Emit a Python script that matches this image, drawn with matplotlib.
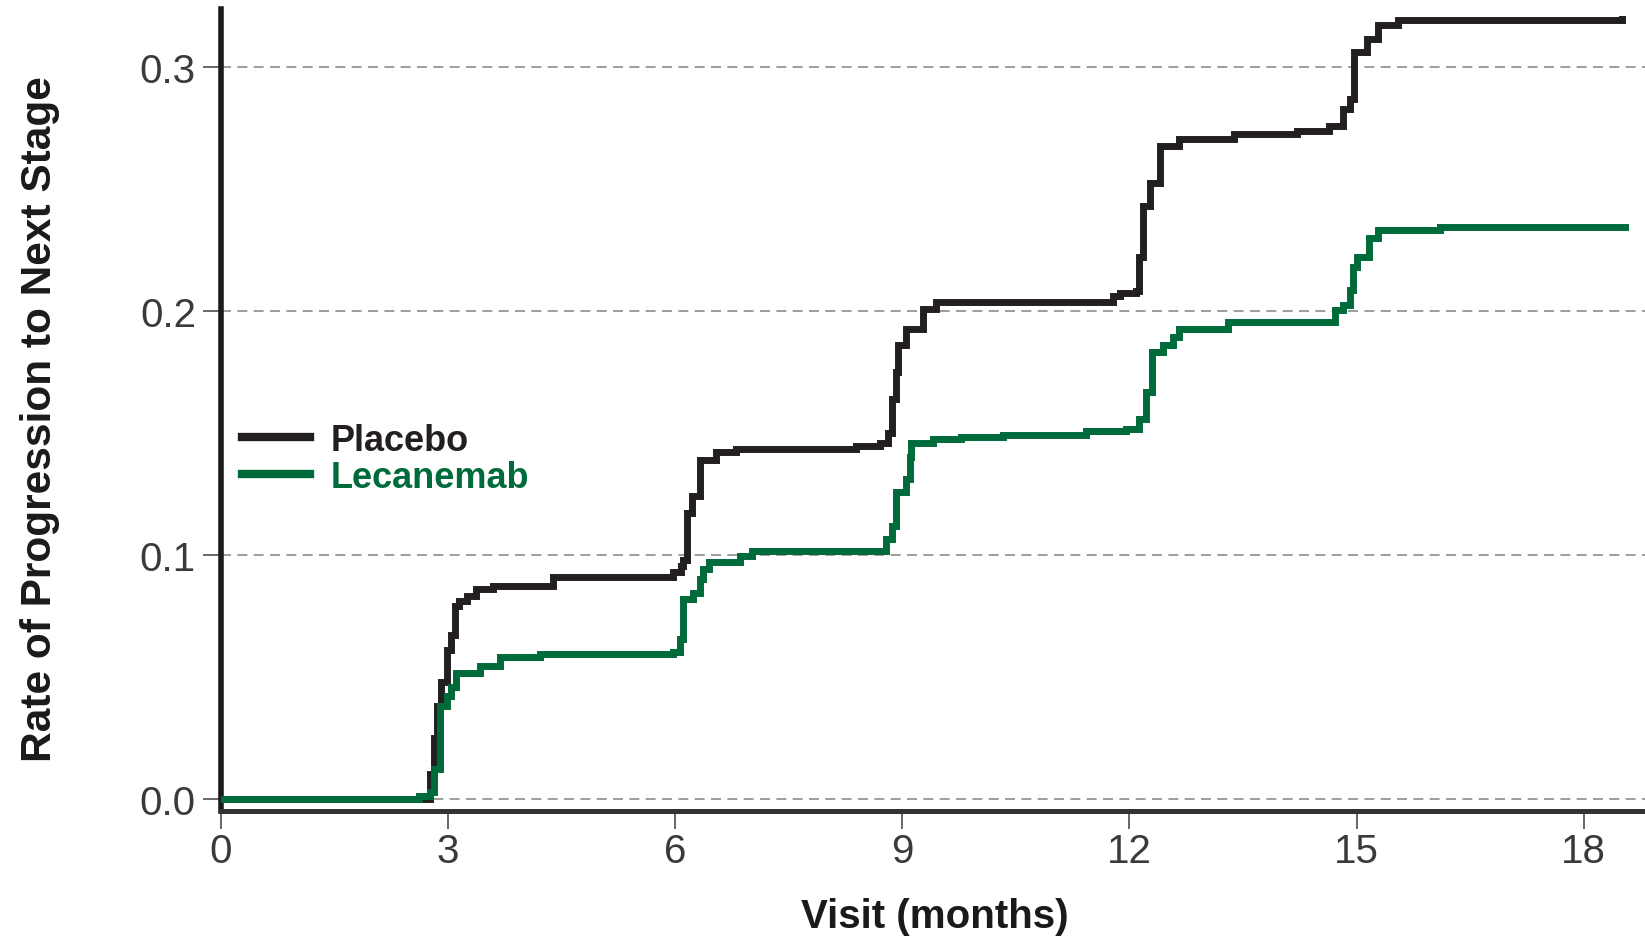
import numpy as np
import matplotlib
matplotlib.use("Agg")
import matplotlib.pyplot as plt

plt.rcParams['font.family'] = ['Liberation Sans', 'DejaVu Sans']

# === Data (months, cumulative rate) ===
pbo_t = [0, 2.76, 2.82, 2.86, 2.91, 2.98, 3.04, 3.09, 3.15, 3.25,
         3.37, 3.59, 4.3, 4.38, 5.88, 5.97, 6.08, 6.1, 6.15, 6.22,
         6.33, 6.54, 6.81, 8.39, 8.7, 8.81, 8.87, 8.92, 8.94, 9.05,
         9.27, 9.45, 11.69, 11.78, 11.88, 12.09, 12.13, 12.18, 12.27, 12.41,
         12.66, 13.38, 14.22, 14.63, 14.82, 14.92, 14.96, 15.14, 15.28, 15.55,
         18.51]
pbo_y = [0, 0.01, 0.025, 0.038, 0.048, 0.061, 0.067, 0.079, 0.081, 0.083,
         0.086, 0.0874, 0.0874, 0.091, 0.091, 0.093, 0.0955, 0.098, 0.117, 0.124,
         0.139, 0.142, 0.1434, 0.1447, 0.146, 0.150, 0.164, 0.175, 0.186, 0.1926,
         0.2008, 0.2036, 0.2036, 0.2063, 0.2075, 0.2083, 0.2223, 0.243, 0.2525, 0.2677,
         0.2704, 0.2725, 0.2739, 0.2759, 0.2828, 0.287, 0.3062, 0.3117, 0.3172, 0.3193,
         0.3197]

lec_t = [0, 2.62, 2.76, 2.82, 2.89, 2.98, 3.04, 3.11, 3.42, 3.68,
         4.21, 5.97, 6.06, 6.1, 6.23, 6.33, 6.37, 6.45, 6.85, 7.02,
         8.7, 8.79, 8.87, 8.92, 9.05, 9.1, 9.12, 9.4, 9.77, 10.33,
         11.43, 11.96, 12.13, 12.22, 12.3, 12.45, 12.57, 12.66, 13.3, 14.68,
         14.72, 14.82, 14.91, 14.95, 15.0, 15.17, 15.28, 16.1, 18.54]
lec_y = [0, 0.001, 0.0026, 0.012, 0.038, 0.042, 0.046, 0.0517, 0.0545, 0.058,
         0.0593, 0.06, 0.0654, 0.082, 0.0845, 0.09, 0.094, 0.097, 0.0996, 0.1016,
         0.1016, 0.1065, 0.112, 0.1256, 0.131, 0.14, 0.146, 0.1475, 0.1485, 0.149,
         0.1509, 0.1516, 0.1557, 0.1667, 0.183, 0.186, 0.1893, 0.1927, 0.1955, 0.1955,
         0.2003, 0.2023, 0.2085, 0.2182, 0.2223, 0.2298, 0.2333, 0.2344, 0.2344]

x_ticks = [0, 3, 6, 9, 12, 15, 18]
y_ticks = [0.0, 0.1, 0.2, 0.3]

black = "#231f20"
green = "#006b3a"

fig = plt.figure(figsize=(16.45, 9.37), dpi=100)
ax = fig.add_axes([0.1343, 0.1335, 0.8657, 0.8553])

for yv in y_ticks:
    ax.axhline(yv, color="#8c8c8c", lw=1.2, linestyle=(0, (6, 3.8)), zorder=1)

ax.plot(pbo_t, pbo_y, drawstyle="steps-post", color=black, lw=5,
        solid_joinstyle="miter", label="Placebo", zorder=3)
ax.plot(lec_t, lec_y, drawstyle="steps-post", color=green, lw=5,
        solid_joinstyle="miter", label="Lecanemab", zorder=4)

ax.set_xlim(0, 18.81)
ax.set_ylim(-0.005, 0.3236)
ax.set_xticks(x_ticks)
ax.set_xticklabels([str(v) for v in x_ticks])
ax.set_yticks(y_ticks)
ax.set_yticklabels(["%.1f" % v for v in y_ticks])

ax.spines["top"].set_visible(False)
ax.spines["right"].set_visible(False)
ax.spines["left"].set_linewidth(4)
ax.spines["left"].set_color("#1a1a1a")
ax.spines["bottom"].set_linewidth(3.6)
ax.spines["bottom"].set_color("#333333")

ax.tick_params(axis="both", length=13, width=1.4, color="#666666",
               labelsize=29, labelcolor="#3a3a3a")
ax.tick_params(axis="y", pad=5)
ax.tick_params(axis="x", pad=2)

ax.set_xlabel("Visit (months)", fontsize=29, fontweight="bold", color="#1a1a1a")
ax.xaxis.set_label_coords(0.5013, -0.108)
ax.set_ylabel("Rate of Progression to Next Stage", fontsize=30.5,
              fontweight="bold", color="#1a1a1a")
ax.yaxis.set_label_coords(-0.113, 0.49)

leg = ax.legend(loc="center left", bbox_to_anchor=(0.0146, 0.4395), frameon=False,
                handlelength=1.9, handletextpad=0.55,
                labelspacing=0.05, borderpad=0, borderaxespad=0,
                labelcolor="linecolor", prop={"weight": "bold", "size": 26})
for line in leg.get_lines():
    line.set_linewidth(6)

fig.savefig("out.png", dpi=100)
